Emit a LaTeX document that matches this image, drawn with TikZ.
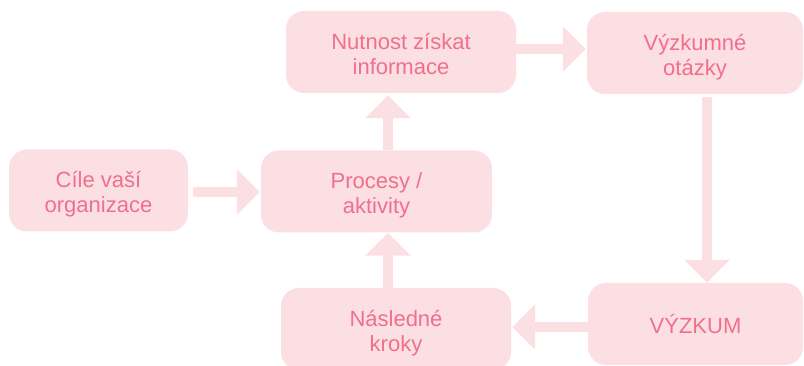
\documentclass[tikz,border=0pt]{standalone}
\usepackage{fontspec}
\setmainfont{Liberation Sans}
\usetikzlibrary{arrows.meta}
\definecolor{boxfill}{RGB}{252,223,226}
\definecolor{boxtext}{RGB}{240,112,140}
\tikzset{
  stepbox/.style={fill=boxfill, rounded corners=18pt, inner sep=0pt, align=center,
    text=boxtext, font=\fontsize{22}{25}\selectfont, minimum height=82pt,
    text height=45pt, text depth=0pt},
  onebox/.style={stepbox, text height=20pt, text depth=0pt},
  blockarrow/.style={draw=boxfill, line width=10pt,
    -{Triangle[width=44pt,length=23pt]}}
}
\begin{document}
\begin{tikzpicture}[x=1pt,y=-1pt]
\useasboundingbox (0,0) rectangle (804,366);
\node[stepbox, minimum width=179pt] (A) at (98.5,190.5) {Cíle vaší\\organizace};
\node[stepbox, minimum width=231pt] (B) at (376.5,191.5) {Procesy /\\aktivity};
\node[stepbox, minimum width=230pt] (C) at (401,52) {Nutnost získat\\informace};
\node[stepbox, minimum width=216pt] (D) at (695,53) {Výzkumné\\otázky};
\node[onebox, minimum width=215pt] (E) at (695.5,324) {VÝZKUM};
\node[stepbox, minimum width=230pt] (F) at (396,329) {Následné\\kroky};
\draw[blockarrow, shorten <=5pt, shorten >=1pt] (A.east |- 0,192) -- (B.west |- 0,192);
\draw[blockarrow, shorten >=2pt] (388,0 |- B.north) -- (388,0 |- C.south);
\draw[blockarrow, shorten >=1pt] (C.east |- 0,49) -- (D.west |- 0,49);
\draw[blockarrow, shorten <=3pt] (707,0 |- D.south) -- (707,0 |- E.north);
\draw[blockarrow, shorten >=1pt] (E.west |- 0,327) -- (F.east |- 0,327);
\draw[blockarrow] (388,0 |- F.north) -- (388,0 |- B.south);
\end{tikzpicture}
\end{document}
